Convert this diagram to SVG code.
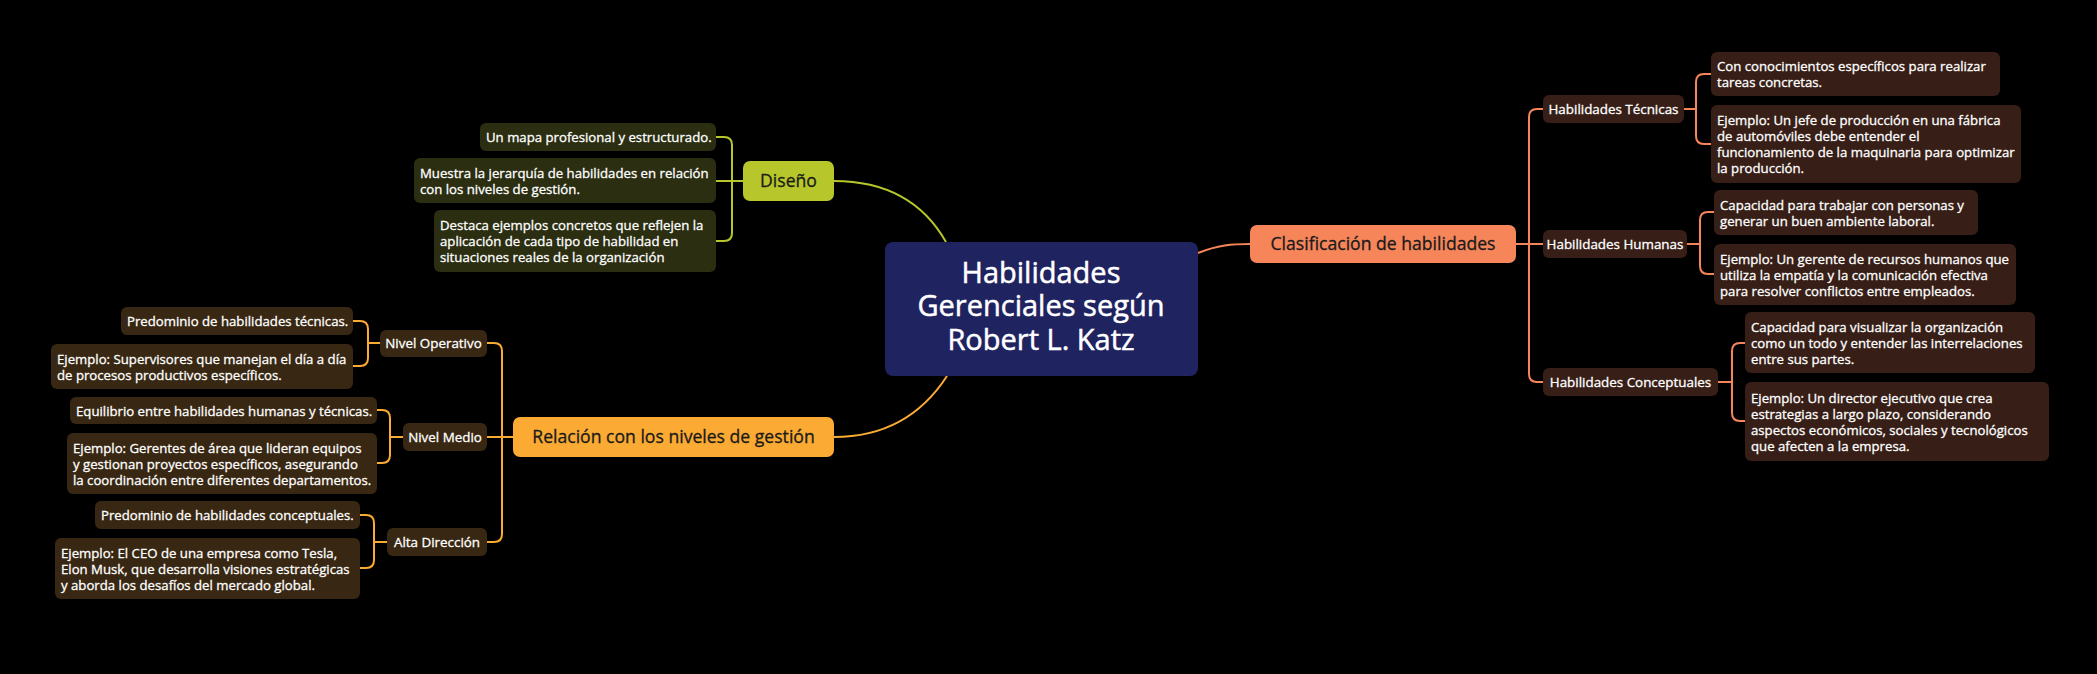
<svg xmlns="http://www.w3.org/2000/svg" width="2097" height="674" viewBox="0 0 2097 674">
<style>
text{font-family:"Open Sans","Liberation Sans",sans-serif;font-weight:500}
.leaf{font-size:13.2px;fill:#fff;stroke:#fff;stroke-width:0.3px}
.l2{font-size:13.4px;fill:#fff;stroke:#fff;stroke-width:0.3px;text-anchor:middle}
.main{font-size:17.6px;fill:#1a1a1a;stroke:#1a1a1a;stroke-width:0.3px;text-anchor:middle}
.ctr{font-size:29px;fill:#fff;stroke:#fff;stroke-width:0.5px;text-anchor:middle}
.lr{fill:#371f17}
.ly{fill:#2b2e11}
.lo{fill:#382712}
.c{fill:none;stroke-width:2}
.cr{stroke:#F6855A}
.cy{stroke:#B7C72B}
.co{stroke:#FBAA33}
</style>
<rect width="2097" height="674" fill="#000"/>
<g id="connectors">
<path class="c cy" stroke-width="2.5" d="M834,181 C890,181 925,205 946,242"/>
<path class="c co" stroke-width="2.5" d="M834,437 C890,437 925,410 947,376"/>
<path class="c cr" stroke-width="2.5" d="M1198,253 C1218,245 1232,244 1250,244"/>
<path class="c cr" d="M1516,244 H1543 M1543,109 H1537 Q1529,109 1529,117 V374 Q1529,382 1537,382 H1543"/>
<path class="c cr" d="M1684,109 H1696 M1711,74 H1704 Q1696,74 1696,82 V136 Q1696,144 1704,144 H1711"/>
<path class="c cr" d="M1687,244 H1700 M1714,212 H1708 Q1700,212 1700,220 V266 Q1700,274 1708,274 H1714"/>
<path class="c cr" d="M1718,382 H1732 M1745,343 H1740 Q1732,343 1732,351 V413 Q1732,421 1740,421 H1745"/>
<path class="c co" d="M513,437 H487 M487,343 H494 Q502,343 502,351 V534 Q502,542 494,542 H487"/>
<path class="c co" d="M380,343 H368 M353,321 H360 Q368,321 368,329 V358 Q368,366 360,366 H353"/>
<path class="c co" d="M403,437 H390 M377,410 H382 Q390,410 390,418 V455 Q390,463 382,463 H377"/>
<path class="c co" d="M387,542 H374 M360,515 H366 Q374,515 374,523 V560 Q374,568 366,568 H360"/>
<path class="c cy" d="M743,181 H716 M716,137 H724 Q732,137 732,145 V233 Q732,241 724,241 H716"/>
</g>
<g id="center">
<rect x="885" y="242" width="313" height="134" rx="8" fill="#1F235F"/>
<text class="ctr" x="1041" y="283">Habilidades</text>
<text class="ctr" x="1041" y="316">Gerenciales según</text>
<text class="ctr" x="1041" y="350">Robert L. Katz</text>
</g>
<g id="clasificacion">
<rect x="1250" y="225" width="266" height="38" rx="7" fill="#F6855A"/>
<text class="main" x="1383" y="250">Clasificación de habilidades</text>
</g>
<g id="diseno">
<rect x="743" y="161" width="91" height="40" rx="7" fill="#B7C72B"/>
<text class="main" x="788.5" y="187">Diseño</text>
</g>
<g id="relacion">
<rect x="513" y="417" width="321" height="40" rx="7" fill="#FBAA33"/>
<text class="main" x="673.5" y="443">Relación con los niveles de gestión</text>
</g>
<g id="tecnicas">
<rect class="lr" x="1543" y="95" width="141" height="28" rx="6"/>
<text class="l2" x="1613.5" y="114">Habilidades Técnicas</text>
</g>
<g id="humanas">
<rect class="lr" x="1543" y="230" width="144" height="28" rx="6"/>
<text class="l2" x="1615" y="249">Habilidades Humanas</text>
</g>
<g id="conceptuales">
<rect class="lr" x="1543" y="368" width="175" height="28" rx="6"/>
<text class="l2" x="1630.5" y="387">Habilidades Conceptuales</text>
</g>
<g id="tec1">
<rect class="lr" x="1711" y="52" width="289" height="44" rx="6"/>
<text class="leaf" x="1717" y="71">Con conocimientos específicos para realizar</text>
<text class="leaf" x="1717" y="87">tareas concretas.</text>
</g>
<g id="tec2">
<rect class="lr" x="1711" y="105" width="310" height="78" rx="6"/>
<text class="leaf" x="1717" y="125">Ejemplo: Un jefe de producción en una fábrica</text>
<text class="leaf" x="1717" y="141">de automóviles debe entender el</text>
<text class="leaf" x="1717" y="157">funcionamiento de la maquinaria para optimizar</text>
<text class="leaf" x="1717" y="173">la producción.</text>
</g>
<g id="hum1">
<rect class="lr" x="1714" y="190" width="264" height="45" rx="6"/>
<text class="leaf" x="1720" y="209.5">Capacidad para trabajar con personas y</text>
<text class="leaf" x="1720" y="225.5">generar un buen ambiente laboral.</text>
</g>
<g id="hum2">
<rect class="lr" x="1714" y="244" width="302" height="61" rx="6"/>
<text class="leaf" x="1720" y="263.5">Ejemplo: Un gerente de recursos humanos que</text>
<text class="leaf" x="1720" y="279.5">utiliza la empatía y la comunicación efectiva</text>
<text class="leaf" x="1720" y="295.5">para resolver conflictos entre empleados.</text>
</g>
<g id="con1">
<rect class="lr" x="1745" y="312" width="290" height="61" rx="6"/>
<text class="leaf" x="1751" y="331.5">Capacidad para visualizar la organización</text>
<text class="leaf" x="1751" y="347.5">como un todo y entender las interrelaciones</text>
<text class="leaf" x="1751" y="363.5">entre sus partes.</text>
</g>
<g id="con2">
<rect class="lr" x="1745" y="382" width="304" height="79" rx="6"/>
<text class="leaf" x="1751" y="402.5">Ejemplo: Un director ejecutivo que crea</text>
<text class="leaf" x="1751" y="418.5">estrategias a largo plazo, considerando</text>
<text class="leaf" x="1751" y="434.5">aspectos económicos, sociales y tecnológicos</text>
<text class="leaf" x="1751" y="450.5">que afecten a la empresa.</text>
</g>
<g id="dis1">
<rect class="ly" x="480" y="123" width="236" height="28" rx="6"/>
<text class="leaf" x="486" y="142">Un mapa profesional y estructurado.</text>
</g>
<g id="dis2">
<rect class="ly" x="414" y="158" width="302" height="45" rx="6"/>
<text class="leaf" x="420" y="177.5">Muestra la jerarquía de habilidades en relación</text>
<text class="leaf" x="420" y="193.5">con los niveles de gestión.</text>
</g>
<g id="dis3">
<rect class="ly" x="434" y="210" width="282" height="62" rx="6"/>
<text class="leaf" x="440" y="230">Destaca ejemplos concretos que reflejen la</text>
<text class="leaf" x="440" y="246">aplicación de cada tipo de habilidad en</text>
<text class="leaf" x="440" y="262">situaciones reales de la organización</text>
</g>
<g id="operativo">
<rect class="lo" x="380" y="330" width="107" height="27" rx="6"/>
<text class="l2" x="433.5" y="348">Nivel Operativo</text>
</g>
<g id="medio">
<rect class="lo" x="403" y="423" width="84" height="28" rx="6"/>
<text class="l2" x="445" y="442">Nivel Medio</text>
</g>
<g id="alta">
<rect class="lo" x="387" y="528" width="100" height="28" rx="6"/>
<text class="l2" x="437" y="547">Alta Dirección</text>
</g>
<g id="op1">
<rect class="lo" x="121" y="307" width="232" height="28" rx="6"/>
<text class="leaf" x="127" y="326">Predominio de habilidades técnicas.</text>
</g>
<g id="op2">
<rect class="lo" x="51" y="344" width="302" height="45" rx="6"/>
<text class="leaf" x="57" y="363.5">Ejemplo: Supervisores que manejan el día a día</text>
<text class="leaf" x="57" y="379.5">de procesos productivos específicos.</text>
</g>
<g id="me1">
<rect class="lo" x="70" y="397" width="307" height="27" rx="6"/>
<text class="leaf" x="76" y="415.5">Equilibrio entre habilidades humanas y técnicas.</text>
</g>
<g id="me2">
<rect class="lo" x="67" y="433" width="310" height="61" rx="6"/>
<text class="leaf" x="73" y="452.5">Ejemplo: Gerentes de área que lideran equipos</text>
<text class="leaf" x="73" y="468.5">y gestionan proyectos específicos, asegurando</text>
<text class="leaf" x="73" y="484.5">la coordinación entre diferentes departamentos.</text>
</g>
<g id="al1">
<rect class="lo" x="95" y="501" width="265" height="28" rx="6"/>
<text class="leaf" x="101" y="520">Predominio de habilidades conceptuales.</text>
</g>
<g id="al2">
<rect class="lo" x="55" y="538" width="305" height="61" rx="6"/>
<text class="leaf" x="61" y="557.5">Ejemplo: El CEO de una empresa como Tesla,</text>
<text class="leaf" x="61" y="573.5">Elon Musk, que desarrolla visiones estratégicas</text>
<text class="leaf" x="61" y="589.5">y aborda los desafíos del mercado global.</text>
</g>
</svg>
